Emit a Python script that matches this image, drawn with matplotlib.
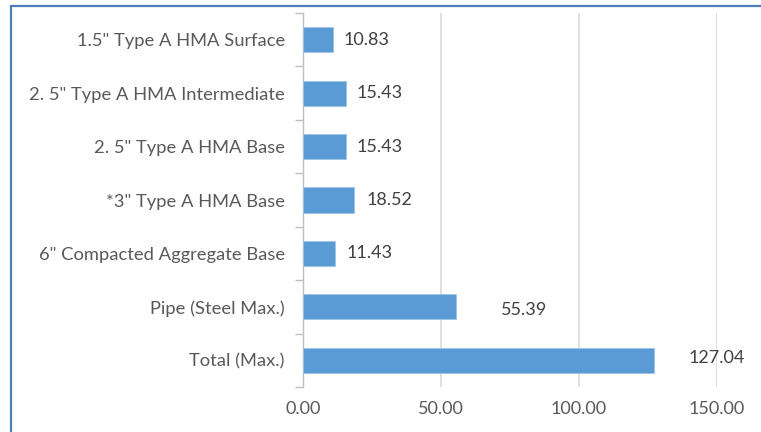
import matplotlib
matplotlib.use("Agg")
import matplotlib.pyplot as plt
from matplotlib.patches import Rectangle

categories = [
    '1.5" Type A HMA Surface',
    '2. 5" Type A HMA Intermediate',
    '2. 5" Type A HMA Base',
    '*3" Type A HMA Base',
    '6" Compacted Aggregate Base',
    'Pipe (Steel Max.)',
    'Total (Max.)',
]
values = [10.83, 15.43, 15.43, 18.52, 11.43, 55.39, 127.04]
# horizontal gap (data units) between bar end and its value label
label_gap = [3.8, 4.0, 4.0, 4.5, 4.3, 16.5, 12.5]
label_dy = [0.0, 0.0, 0.0, 0.0, 0.0, 0.05, -0.05]
xticks = [0, 50, 100, 150]

plt.rcParams['font.family'] = ['Lato', 'DejaVu Sans']

fig = plt.figure(figsize=(7.61, 4.32), dpi=100)
W, H = 761, 432
ax = fig.add_axes([303 / W, 1 - 387 / H, (717 - 303) / W, (387 - 13) / H])

bar_color = '#5b9bd5'
ypos = list(range(len(categories)))
ax.barh(ypos, values, height=0.47, color=bar_color, edgecolor='#9cc3e6', linewidth=0.6, zorder=3)
ax.set_ylim(len(categories) - 0.5, -0.5)
ax.set_xlim(0, 150)

for y, v, g, dy in zip(ypos, values, label_gap, label_dy):
    ax.text(v + g, y + dy, f"{v:.2f}", va='center', ha='left', fontsize=13, color='#404040', zorder=4)

ax.set_xticks(xticks)
ax.set_xticklabels([f"{t:.2f}" for t in xticks], fontsize=13, color='#595959')
ax.set_yticks(ypos)
ax.set_yticklabels(categories, fontsize=13.2, color='#595959')

# category boundary ticks on the value axis
ax.set_yticks([i - 0.5 for i in range(len(categories) + 1)], minor=True)
ax.tick_params(axis='y', which='major', length=0, pad=13)
ax.tick_params(axis='y', which='minor', length=6, color='#bfbfbf', width=1)
ax.tick_params(axis='x', length=0, pad=10)

ax.grid(axis='x', color='#d9d9d9', linewidth=1.2, zorder=0)
for s in ['top', 'right', 'bottom']:
    ax.spines[s].set_visible(False)
ax.spines['left'].set_color('#bfbfbf')
ax.spines['left'].set_linewidth(1)

# outer chart frame
fig.patches.append(Rectangle((11 / W, -0.1), 1.2, 1 - 5.5 / H + 0.1, transform=fig.transFigure,
                             fill=False, edgecolor='#4a7ebb', linewidth=1.6))

fig.savefig('out.png', dpi=100)
